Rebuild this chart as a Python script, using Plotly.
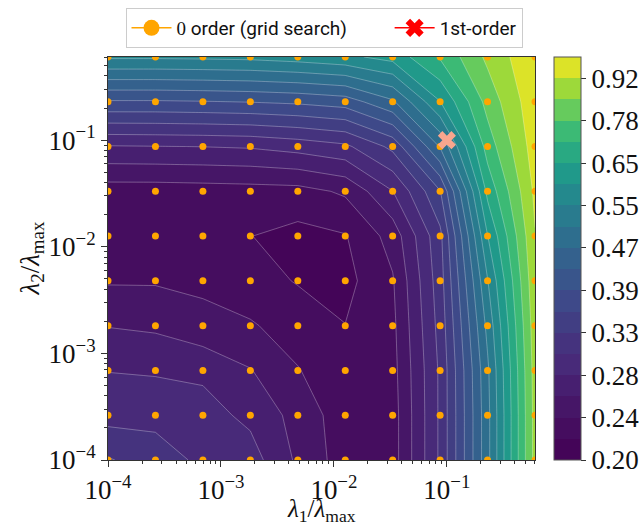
import math
import plotly.graph_objects as go
from plotly.colors import sample_colorscale

# ---------------- data ----------------
lam1 = [1e-4, 2.63e-4, 6.92e-4, 1.82e-3, 4.79e-3, 1.26e-2, 3.31e-2, 8.71e-2, 0.229, 0.603]
lam2 = [1e-4, 2.63e-4, 6.92e-4, 1.82e-3, 4.79e-3, 1.26e-2, 3.31e-2, 8.71e-2, 0.229, 0.603]

# rows follow lam2 (bottom -> top), columns follow lam1 (left -> right)
err_r0 = [0.335, 0.318, 0.300, 0.2915, 0.254, 0.227, 0.228, 0.310, 0.495, 0.870]
err_r1 = [0.296, 0.298, 0.290, 0.275, 0.250, 0.226, 0.228, 0.310, 0.495, 0.870]
err_r2 = [0.280, 0.278, 0.276, 0.259, 0.238, 0.223, 0.230, 0.310, 0.500, 0.875]
err_r3 = [0.257, 0.254, 0.243, 0.239, 0.228, 0.218, 0.232, 0.315, 0.520, 0.885]
err_r4 = [0.235, 0.235, 0.233, 0.225, 0.2165, 0.212, 0.235, 0.320, 0.550, 0.900]
err_r5 = [0.222, 0.221, 0.220, 0.218, 0.212, 0.2165, 0.245, 0.325, 0.600, 0.915]
err_r6 = [0.227, 0.227, 0.228, 0.229, 0.230, 0.240, 0.280, 0.360, 0.670, 0.935]
err_r7 = [0.279, 0.280, 0.281, 0.283, 0.290, 0.300, 0.340, 0.470, 0.740, 0.960]
err_r8 = [0.390, 0.390, 0.392, 0.395, 0.400, 0.410, 0.460, 0.600, 0.800, 0.975]
err_r9 = [0.560, 0.560, 0.562, 0.565, 0.575, 0.590, 0.620, 0.720, 0.860, 0.990]
err = [err_r0, err_r1, err_r2, err_r3, err_r4, err_r5, err_r6, err_r7, err_r8, err_r9]

first_order_l1 = [0.1]
first_order_l2 = [0.1]

cbar_ticktext = ["0.20", "0.24", "0.28", "0.33", "0.39", "0.47", "0.55", "0.65", "0.78", "0.92"]
axis_ticktext = ["10<sup>\u22124</sup>", "10<sup>\u22123</sup>", "10<sup>\u22122</sup>", "10<sup>\u22121</sup>"]
axis_tickvals = [1e-4, 1e-3, 1e-2, 1e-1]
x_title = "<i>\u03bb</i><sub>1</sub>/<i>\u03bb</i><sub>max</sub>"
y_title = "<i>\u03bb</i><sub>2</sub>/<i>\u03bb</i><sub>max</sub>"

# ------------- colour levels (log spaced, 19 bands from 0.2 to 1.0) -------------
LO, HI, NB = 0.2, 1.0, 19
levels = [LO * (HI / LO) ** (j / NB) for j in range(NB + 1)]
def to_idx(v):
    return NB * math.log(v / LO) / math.log(HI / LO)
zidx = [[to_idx(v) for v in row] for row in err]
mids = [(levels[k] + levels[k + 1]) / 2 for k in range(NB)]
band_cols = sample_colorscale("Viridis", [(m - LO) / (HI - LO) for m in mids])
cscale = [[k / (NB - 1), band_cols[k]] for k in range(NB)]
step_scale = []
for k in range(NB):
    step_scale.append([k / NB, band_cols[k]])
    step_scale.append([(k + 1) / NB, band_cols[k]])

minor_vals = [m * 10 ** e for e in range(-4, 0) for m in range(2, 10)]

SERIF = "Liberation Serif, Times New Roman, serif"
FS = 27

fig = go.Figure()
fig.add_trace(go.Contour(
    x=lam1, y=lam2, z=zidx,
    contours=dict(start=1, end=NB - 1, size=1, coloring="fill", showlines=False),
    colorscale=cscale, line=dict(width=0, smoothing=0), showscale=False,
    hoverinfo="skip", showlegend=False,
))
fig.add_trace(go.Contour(
    x=lam1, y=lam2, z=zidx,
    contours=dict(start=1, end=NB - 1, size=1, coloring="none", showlines=True),
    line=dict(color="rgba(255,255,255,0.42)", width=0.7, smoothing=0),
    showscale=False, hoverinfo="skip", showlegend=False,
))
gx = [a for b in lam2 for a in lam1]
gy = [b for b in lam2 for a in lam1]
fig.add_trace(go.Scatter(x=gx, y=gy, mode="markers",
                         marker=dict(color="#FFA500", size=7), showlegend=False, hoverinfo="skip"))
fig.add_trace(go.Scatter(x=first_order_l1, y=first_order_l2, mode="markers",
                         marker=dict(symbol="x", color="#F8A68E", size=16, line=dict(width=0)),
                         showlegend=False, hoverinfo="skip"))
# colour bar (stepped, 19 equal bands)
fig.add_trace(go.Scatter(
    x=[None], y=[None], mode="markers", showlegend=False, hoverinfo="skip",
    marker=dict(color=[0], cmin=0, cmax=NB, colorscale=step_scale, showscale=True,
                colorbar=dict(
                    xref="container", x=554 / 643, xanchor="left", xpad=0, ypad=0,
                    yref="paper", y=0.5, yanchor="middle", len=1.0, lenmode="fraction",
                    thickness=27, outlinewidth=1, outlinecolor="#555",
                    tickmode="array", tickvals=list(range(0, NB, 2)), ticktext=cbar_ticktext,
                    ticks="outside", ticklen=5, tickcolor="#333",
                    tickfont=dict(family=SERIF, size=FS, color="#111"),
                )),
))
# legend entries
fig.add_trace(go.Scatter(x=[None], y=[None], mode="lines+markers",
                         name="<span style='font-family:Liberation Serif'>0</span> order (grid search)" + "\u00a0" * 8,
                         line=dict(color="#FFA500", width=1.5),
                         marker=dict(color="#FFA500", size=16)))
fig.add_trace(go.Scatter(x=[None], y=[None], mode="lines+markers", name="1st-order",
                         line=dict(color="red", width=1.5),
                         marker=dict(color="red", symbol="x", size=16, line=dict(width=0))))

axis_common = dict(
    type="log", range=[-4, -0.22], tickmode="array", tickvals=axis_tickvals, ticktext=axis_ticktext,
    ticks="outside", ticklen=6, tickcolor="#333", showgrid=False, zeroline=False,
    showline=True, mirror=True, linecolor="#333", linewidth=1, automargin=False,
    minor=dict(tickvals=minor_vals, ticks="outside", ticklen=3, tickcolor="#333"),
    tickfont=dict(family=SERIF, size=FS, color="#111"),
)
fig.update_layout(
    width=643, height=528,
    margin=dict(l=108, r=108, t=57, b=68),
    paper_bgcolor="white", plot_bgcolor="white",
    xaxis=axis_common,
    yaxis=axis_common,
    legend=dict(orientation="h", xref="container", x=324 / 643, xanchor="center",
                yref="container", y=1 - 8 / 528, yanchor="top",
                bordercolor="#cccccc", borderwidth=1, bgcolor="white",
                font=dict(family="Roboto, DejaVu Sans, sans-serif", size=19, color="#111"),
                itemwidth=40),
    annotations=[
        dict(text=x_title, xref="paper", yref="paper", x=0.5, y=-(528 - 460) / 403,
             xanchor="center", yanchor="bottom", showarrow=False,
             font=dict(family=SERIF, size=25, color="#111")),
        dict(text=y_title, xref="paper", yref="paper", x=-(108 - 12) / 427, y=0.5,
             xanchor="left", yanchor="middle", textangle=-90, showarrow=False,
             font=dict(family=SERIF, size=27, color="#111")),
    ],
)
fig.write_html("out.html", config={"displayModeBar": False},
               post_script="document.body.style.margin='0px';")
